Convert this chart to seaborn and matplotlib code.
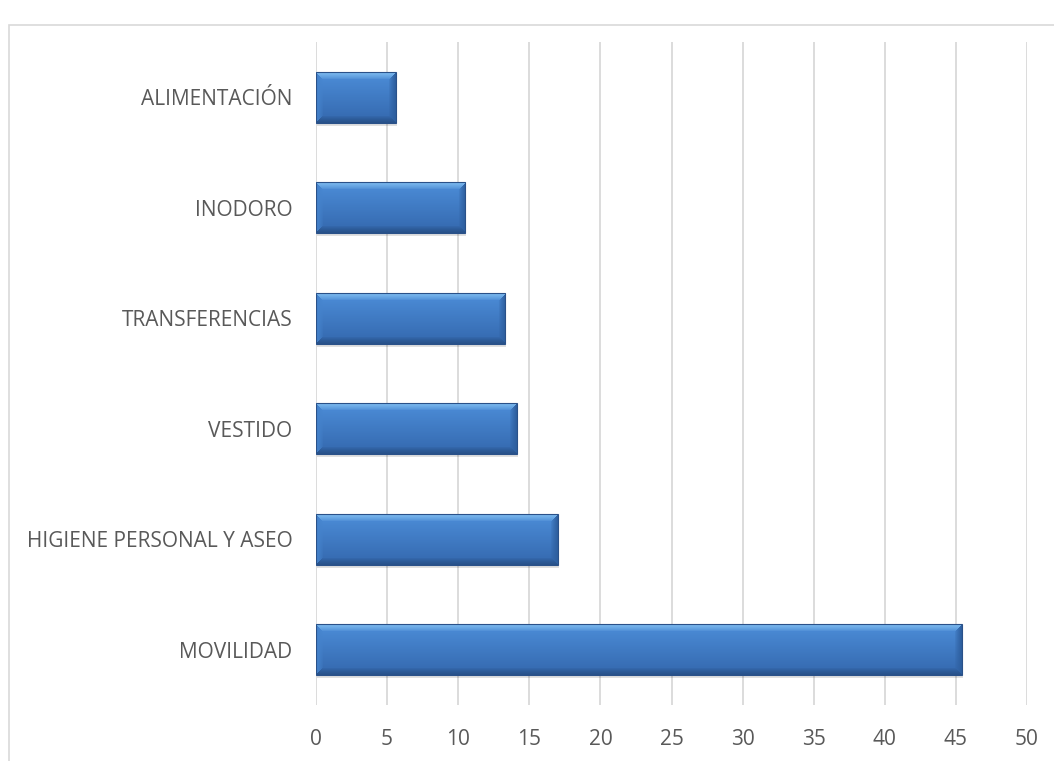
import numpy as np
import pandas as pd
import matplotlib
matplotlib.use("Agg")
import matplotlib.pyplot as plt
import seaborn as sns
from matplotlib.patches import Rectangle

categories = ["ALIMENTACIÓN", "INODORO", "TRANSFERENCIAS", "VESTIDO",
              "HIGIENE PERSONAL Y ASEO", "MOVILIDAD"]
values = [5.6, 10.5, 13.3, 14.1, 17.0, 45.4]
x_ticks = [0, 5, 10, 15, 20, 25, 30, 35, 40, 45, 50]

df = pd.DataFrame({"cat": categories, "val": values})

sns.set_theme(style="white")
plt.rcParams['font.family'] = ['Open Sans', 'DejaVu Sans']

W, H = 1054, 761
fig = plt.figure(figsize=(W / 100, H / 100), dpi=100)
ax = fig.add_axes([316 / W, 1 - 705 / H, (1027 - 316) / W, (705 - 42) / H])

sns.barplot(data=df, x="val", y="cat", order=categories, color="#3C7AC6",
            width=0.46, ax=ax, zorder=3, edgecolor="none", linewidth=0)

ax.set_xlim(0, 50)
ax.set_ylim(5.5, -0.5)
ax.set_xticks(x_ticks)
ax.set_xticklabels([str(t) for t in x_ticks])
ax.set_xlabel("")
ax.set_ylabel("")
ax.grid(axis="x", color="#D9D9D9", linewidth=1.3, zorder=0)
ax.grid(axis="y", visible=False)
for s in ax.spines.values():
    s.set_visible(False)
ax.tick_params(axis="x", length=0, pad=17, labelsize=15, labelcolor="#595959")
ax.tick_params(axis="y", length=0, pad=17, labelsize=15, labelcolor="#595959")

def hexrgb(h):
    h = h.lstrip("#")
    return np.array([int(h[i:i + 2], 16) / 255 for i in (0, 2, 4)])

face_top = hexrgb("#4C8DD8")
face_bot = hexrgb("#3468AE")
c_top = hexrgb("#7DBAEE")
c_bot = hexrgb("#28528A")
c_right = hexrgb("#2E5F9F")
c_left = hexrgb("#4583CC")

px_per_unit = (1027 - 316) / 50.0
bar_px_h = 0.46 * (705 - 42) / 6.0

for p in list(ax.patches):
    x0, y0 = p.get_x(), p.get_y()
    w, h = p.get_width(), p.get_height()
    Wp = max(int(round(w * px_per_unit)), 4)
    Hp = max(int(round(bar_px_h)), 4)
    b = 7.0
    ii, jj = np.mgrid[0:Hp, 0:Wp].astype(float)
    t = ii / (Hp - 1)
    img = face_top[None, None, :] * (1 - t[..., None]) + face_bot[None, None, :] * t[..., None]
    dists = np.stack([ii, Hp - 1 - ii, jj, Wp - 1 - jj])
    side = np.argmin(dists, axis=0)
    dmin = np.min(dists, axis=0)
    wgt = np.clip(1 - dmin / b, 0, 1) ** 0.8
    cols = [c_top, c_bot, c_left, c_right]
    for k in range(4):
        m = side == k
        img[m] = img[m] * (1 - wgt[m][:, None]) + cols[k][None, :] * wgt[m][:, None]
    ax.add_patch(Rectangle((x0 + 0.08, y0 + 0.03), w, h, facecolor="#000000",
                           alpha=0.12, edgecolor="none", zorder=2))
    im = ax.imshow(np.clip(img, 0, 1), extent=(x0, x0 + w, y0 + h, y0),
                   aspect="auto", zorder=4, interpolation="bilinear")
    im.set_clip_path(p)
    p.set_edgecolor("#2A5189")
    p.set_linewidth(0.8)
    p.set_zorder(5)
    p.set_facecolor("none")

ax.set_xlim(0, 50)
ax.set_ylim(5.5, -0.5)

fig.add_artist(Rectangle((9 / W, -0.1), 1.2, 1 - 25 / H + 0.1,
                         transform=fig.transFigure, facecolor="none",
                         edgecolor="#D9D9D9", linewidth=1.2))

fig.savefig("out.png", dpi=100)
